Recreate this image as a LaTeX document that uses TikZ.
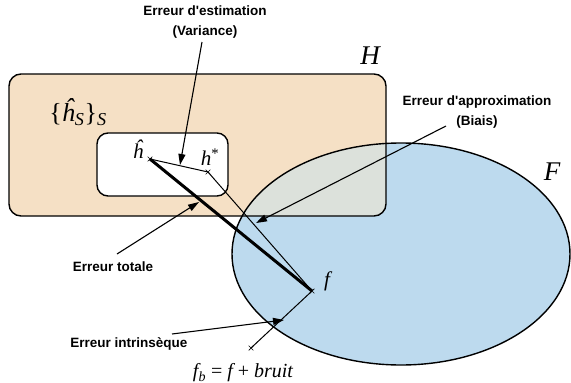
\documentclass[tikz,border=0pt]{standalone}
\usepackage{fontspec}
\newfontfamily\lab{Liberation Sans}
\newfontfamily\tms{Liberation Serif}
\usetikzlibrary{arrows.meta,shapes.misc}
\definecolor{peach}{RGB}{245,224,197}
\definecolor{skyb}{RGB}{189,218,238}
\definecolor{overl}{RGB}{220,225,219}
\begin{document}
\begin{tikzpicture}[x=1pt,y=-1pt,
  lbl/.style={font=\lab\bfseries\fontsize{13.5}{19.5}\selectfont, align=center, inner sep=0pt},
  arr/.style={-{Triangle[length=11pt,width=7pt]}, line width=1.1pt},
  xm/.style={cross out, draw, minimum size=4pt, inner sep=0pt, line width=0.7pt},
  mth/.style={inner sep=0pt},
  border/.style={line width=1.4pt}]
\useasboundingbox (0,0) rectangle (571,383);
% regions
\fill[peach, rounded corners=12pt] (9,74) rectangle (386,216);
\fill[skyb] (401,254) ellipse [x radius=169, y radius=111];
\begin{scope}
  \clip[rounded corners=12pt] (9,74) rectangle (386,216);
  \fill[overl] (401,254) ellipse [x radius=169, y radius=111];
\end{scope}
\draw[border, rounded corners=12pt] (9,74) rectangle (386,216);
\draw[border] (401,254) ellipse [x radius=169, y radius=111];
\draw[border, fill=white, rounded corners=11pt] (97,133) rectangle (228,196);
% points
\node[xm] (hh) at (150,159) {};
\node[xm] (hs) at (208,172) {};
\node[xm] (f) at (312,291) {};
\node[xm] (fb) at (251,348) {};
% segments
\draw[line width=1pt] (hh.center) -- (hs.center);
\draw[line width=1pt] (hs.center) -- (f.center);
\draw[line width=3pt] (hh.center) -- (f.center);
\draw[line width=1pt] (f.center) -- (fb.center);
% math labels
\node[mth, font=\tms\itshape\fontsize{27}{27}\selectfont] (H) at (370,56) {H};
\node[mth, font=\tms\itshape\fontsize{27}{27}\selectfont] (F) at (552,172) {F};
\node[mth, font=\tms\fontsize{26}{26}\selectfont] (hs-set) at (78,112)
  {\{\textit{ĥ}\textsubscript{\itshape S}\}\textsubscript{\itshape S}};
\node[mth, font=\tms\itshape\fontsize{21}{21}\selectfont] (hh-l) at (138,149) {ĥ};
\node[mth, font=\tms\itshape\fontsize{21}{21}\selectfont] (hs-l) at (210,157) {h\textsuperscript{\upshape *}};
\node[mth, font=\tms\itshape\fontsize{21}{21}\selectfont] (f-l) at (327,281) {f};
\node[mth, font=\tms\itshape\fontsize{20}{20}\selectfont] (fb-l) at (243,373)
  {f\textsubscript{b} {\upshape =} f {\upshape +} bruit};
% text labels
\node[lbl] (est) at (205,22) {Erreur d'estimation\\(Variance)};
\node[lbl] (app) at (477,112) {Erreur d'approximation\\(Biais)};
\node[lbl] (tot) at (113,267) {Erreur totale};
\node[lbl] (intr) at (129,344) {Erreur intrinsèque};
% arrow anchors
\coordinate (est-s) at (202,42);
\coordinate (est-t) at (180,165);
\coordinate (app-s) at (446,126);
\coordinate (app-t) at (256,223);
\coordinate (tot-s) at (117,254);
\coordinate (tot-t) at (199,202);
\coordinate (intr-s) at (172,334);
\coordinate (intr-t) at (284,320);
\draw[arr] (est-s) -- (est-t);
\draw[arr] (app-s) -- (app-t);
\draw[arr] (tot-s) -- (tot-t);
\draw[arr] (intr-s) -- (intr-t);
\end{tikzpicture}
\end{document}
